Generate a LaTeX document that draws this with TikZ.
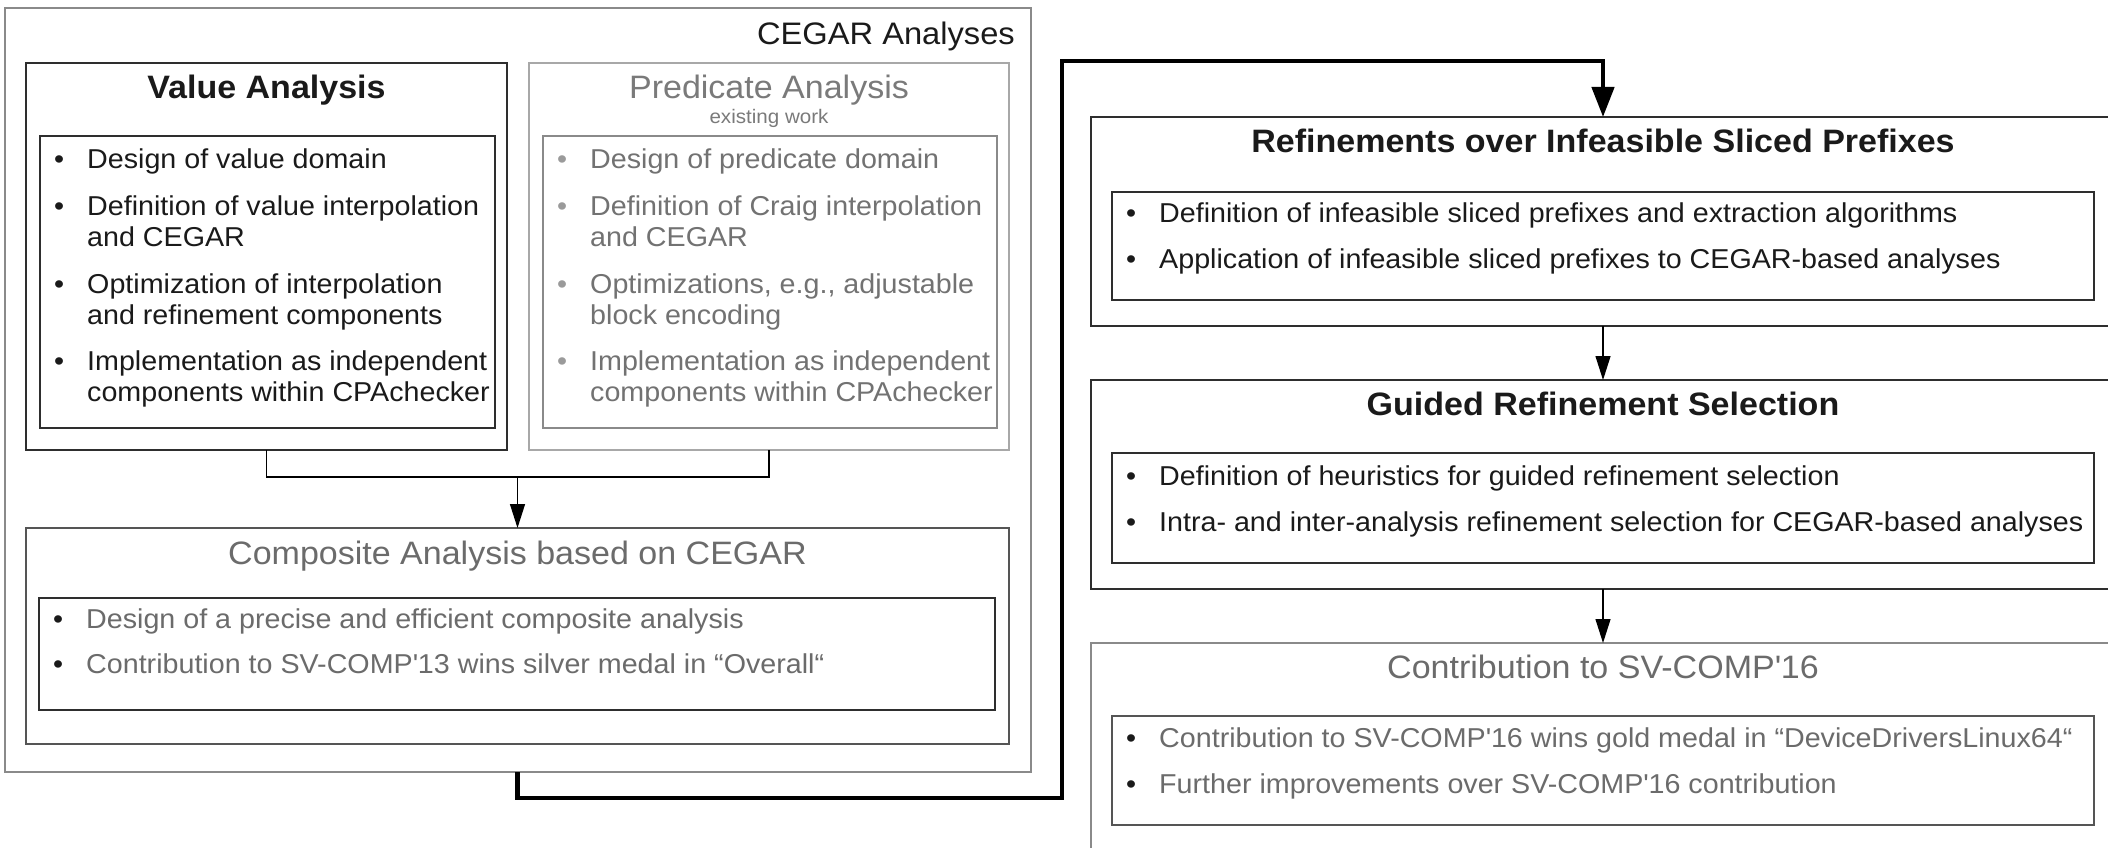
\documentclass[tikz,border=0pt]{standalone}
\usepackage{fontspec}
\setmainfont{Liberation Sans}[FakeStretch=1.05]
\usetikzlibrary{arrows.meta}

\definecolor{ink}{HTML}{1A1A1A}
\definecolor{dim}{HTML}{6B6B6B}
\definecolor{pale}{HTML}{7A7A7A}
\definecolor{palebody}{HTML}{727272}
\definecolor{paledot}{HTML}{9A9A9A}
\definecolor{frdark}{HTML}{2E2E2E}
\definecolor{frmid}{HTML}{555555}
\definecolor{frgrey}{HTML}{8A8A8A}
\definecolor{frlight}{HTML}{A8A8A8}

% bullet sitting to the left of an item's first line
\newcommand{\itembullet}[1][ink]{\makebox[0pt][r]{\textcolor{#1}{•}\hspace{23pt}}}
\newcommand{\apos}{\textquotesingle}

\tikzset{
  frame/.style={draw=#1, line width=1.5pt, inner sep=0pt, outer sep=0pt,
                anchor=north west},
  heading/.style={font=\fontsize{32.4}{38}\selectfont, anchor=base, inner sep=0pt},
  strong/.style={heading, font=\fontsize{32.4}{38}\selectfont\bfseries},
  entry/.style={font=\fontsize{27.3}{32}\selectfont, anchor=base west, inner sep=0pt},
  conn/.style={draw=black, line width=1.3pt},
  smalltip/.style={-{Triangle[length=24pt,width=15pt]}},
  heavy/.style={draw=black, line width=4.5pt},
}

\begin{document}
\begin{tikzpicture}[x=1pt,y=-1pt]
\useasboundingbox (0,0) rectangle (2108,848);
\clip (0,0) rectangle (2108,848);
\fill[white] (0,0) rectangle (2108,848);

% ---------- left group: CEGAR analyses ----------
\node[frame=frgrey, minimum width=1026pt, minimum height=764pt] (cegar) at (5,8) {};
\node[font=\fontsize{31.1}{36}\selectfont, anchor=base east, inner sep=0pt, text=ink]
  (cegart) at (1015,45) {CEGAR Analyses};

% value analysis
\node[frame=frdark, minimum width=481pt, minimum height=387pt] (value) at (26,63) {};
\node[frame=frdark, minimum width=455pt, minimum height=292pt] (valin) at (40,136) {};
\node[strong, text=ink] (valt) at (266.5,99) {Value Analysis};
\begin{scope}[every node/.style={entry, text=ink}]
  \node (v1)  at (87,168) {\itembullet Design of value domain};
  \node (v2)  at (87,215) {\itembullet Definition of value interpolation};
  \node (v2b) at (87,246) {and CEGAR};
  \node (v3)  at (87,293) {\itembullet Optimization of interpolation};
  \node (v3b) at (87,324) {and refinement components};
  \node (v4)  at (87,370) {\itembullet Implementation as independent};
  \node (v4b) at (87,401) {components within CPAchecker};
\end{scope}

% predicate analysis
\node[frame=frlight, minimum width=480pt, minimum height=387pt] (pred) at (529,63) {};
\node[frame=frgrey, minimum width=454pt, minimum height=292pt] (predin) at (543,136) {};
\node[heading, text=pale] (predt) at (769,99) {Predicate Analysis};
\node[font=\fontsize{19.6}{23}\selectfont, anchor=base, inner sep=0pt, text=pale]
  (predsub) at (769,124) {existing work};
\begin{scope}[every node/.style={entry, text=palebody}]
  \node (p1)  at (590,168) {\itembullet[paledot]Design of predicate domain};
  \node (p2)  at (590,215) {\itembullet[paledot]Definition of Craig interpolation};
  \node (p2b) at (590,246) {and CEGAR};
  \node (p3)  at (590,293) {\itembullet[paledot]Optimizations, e.g., adjustable};
  \node (p3b) at (590,324) {block encoding};
  \node (p4)  at (590,370) {\itembullet[paledot]Implementation as independent};
  \node (p4b) at (590,401) {components within CPAchecker};
\end{scope}

% composite analysis
\node[frame=frmid, minimum width=983pt, minimum height=216pt] (comp) at (26,528) {};
\node[frame=frdark, minimum width=956pt, minimum height=112pt] (compin) at (39,598) {};
\node[heading, text=dim] (compt) at (517.5,564) {Composite Analysis based on CEGAR};
\begin{scope}[every node/.style={entry, text=dim}]
  \node (c1) at (86,628) {\itembullet Design of a precise and efficient composite analysis};
  \node (c2) at (86,673) {\itembullet Contribution to SV-COMP\apos13 wins silver medal in “Overall“};
\end{scope}

% join of the two analyses into the composite one
\coordinate (jn) at (517.5,477);
\draw[conn] (value.south) |- (jn) -| (pred.south);
\draw[conn, smalltip] (jn) -- (comp.north);

% ---------- right column ----------
\node[frame=frdark, minimum width=1024pt, minimum height=209pt] (ref) at (1091,117) {};
\node[frame=frdark, minimum width=982pt, minimum height=108pt] (refin) at (1112,192) {};
\node[strong, text=ink] (reft) at (1603,153) {Refinements over Infeasible Sliced Prefixes};
\begin{scope}[every node/.style={entry, text=ink}]
  \node (r1) at (1159,222) {\itembullet Definition of infeasible sliced prefixes and extraction algorithms};
  \node (r2) at (1159,268) {\itembullet Application of infeasible sliced prefixes to CEGAR-based analyses};
\end{scope}

\node[frame=frdark, minimum width=1024pt, minimum height=209pt] (guid) at (1091,380) {};
\node[frame=frdark, minimum width=982pt, minimum height=110pt] (guidin) at (1112,453) {};
\node[strong, text=ink] (guidt) at (1603,415) {Guided Refinement Selection};
\begin{scope}[every node/.style={entry, text=ink}]
  \node (g1) at (1159,485) {\itembullet Definition of heuristics for guided refinement selection};
  \node (g2) at (1159,531) {\itembullet Intra- and inter-analysis refinement selection for CEGAR-based analyses};
\end{scope}

\node[frame=frgrey, minimum width=1024pt, minimum height=250pt] (contr) at (1091,643) {};
\node[frame=frmid, minimum width=982pt, minimum height=109pt] (contrin) at (1112,716) {};
\node[heading, text=dim] (contrt) at (1603,678) {Contribution to SV-COMP\apos16};
\begin{scope}[every node/.style={entry, text=dim}]
  \node (k1) at (1159,747) {\itembullet Contribution to SV-COMP\apos16 wins gold medal in “DeviceDriversLinux64“};
  \node (k2) at (1159,793) {\itembullet Further improvements over SV-COMP\apos16 contribution};
\end{scope}

\draw[conn, smalltip] (ref.south) -- (guid.north);
\draw[conn, smalltip] (guid.south) -- (contr.north);

% ---------- heavy link from the left group to the right column ----------
\coordinate (lo) at (1062,798);
\coordinate (hi) at (1062,61);
\draw[heavy, -{Triangle[length=30pt,width=22pt]}]
  (comp.south |- cegar.south) |- (lo) -- (hi) -| (ref.north);
\end{tikzpicture}
\end{document}
